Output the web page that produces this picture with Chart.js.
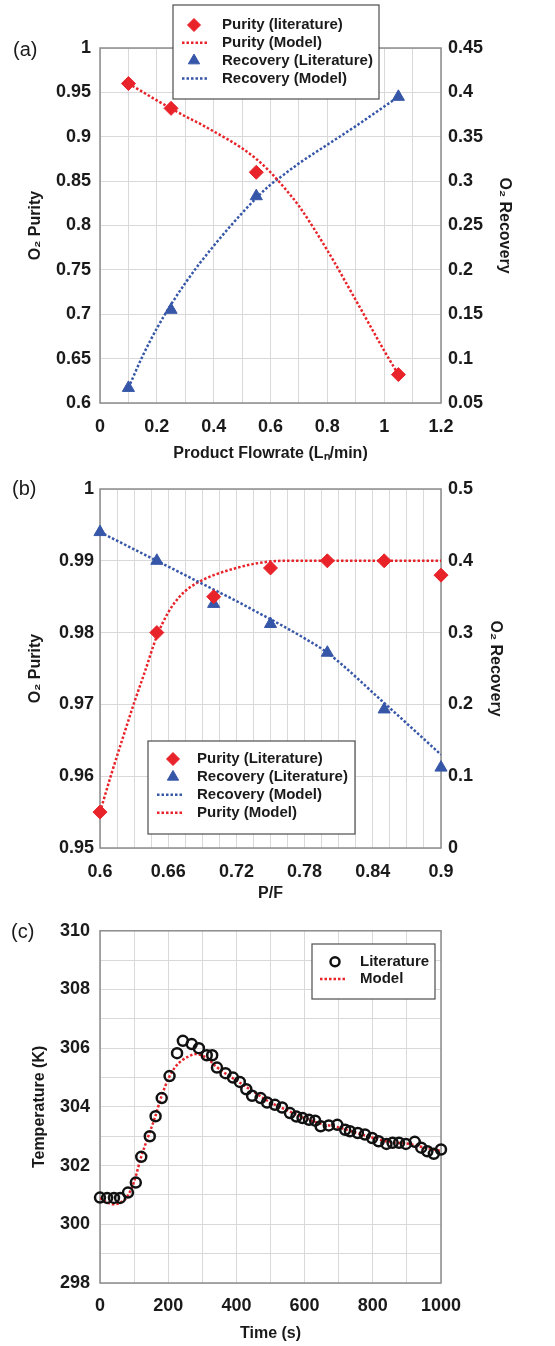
<!DOCTYPE html>
<html>
<head>
<meta charset="utf-8">
<title>O2 PSA validation</title>
<script src="https://cdn.jsdelivr.net/npm/chart.js@4.4.1/dist/chart.umd.min.js"></script>
<style>
  body { margin: 0; background: #fff; }
  #fig { position: relative; width: 555px; height: 1346px; font-family: "Liberation Sans", Arial, sans-serif; }
  #fig canvas { position: absolute; left: 0; }
  .tag { position: absolute; font-size: 20px; line-height: 20px; color: #1a1a1a; }
</style>
</head>
<body>
<div id="fig">
  <canvas id="chartA" width="555" height="470" style="top:0"></canvas>
  <canvas id="chartB" width="555" height="440" style="top:470px"></canvas>
  <canvas id="chartC" width="555" height="436" style="top:910px"></canvas>
  <div class="tag" style="left:13px;top:39px">(a)</div>
  <div class="tag" style="left:12px;top:478px">(b)</div>
  <div class="tag" style="left:11px;top:921px">(c)</div>
</div>
<script>
// (a) purity / recovery against product flowrate
const flowLit = [0.1, 0.25, 0.55, 1.05];
const purityLitA = [0.96, 0.932, 0.86, 0.632];
const recoveryLitA = [0.067, 0.155, 0.283, 0.395];
const flowModel = [0.1, 0.15, 0.2, 0.25, 0.3, 0.35, 0.4, 0.45, 0.5, 0.55, 0.6, 0.65, 0.7, 0.8, 0.9, 1.0, 1.05];
const purityModelA = [0.96, 0.9505, 0.941, 0.932, 0.923, 0.915, 0.906, 0.897, 0.887, 0.875, 0.86, 0.842, 0.822, 0.772, 0.716, 0.659, 0.632];
const recoveryModelA = [0.067, 0.103, 0.134, 0.161, 0.185, 0.207, 0.227, 0.246, 0.264, 0.281, 0.296, 0.308, 0.32, 0.341, 0.362, 0.384, 0.395];

// (b) purity / recovery against P/F
const pfLit = [0.6, 0.65, 0.7, 0.75, 0.8, 0.85, 0.9];
const purityLitB = [0.955, 0.98, 0.985, 0.989, 0.99, 0.99, 0.988];
const recoveryLitB = [0.44, 0.40, 0.34, 0.312, 0.272, 0.193, 0.112];
const pfModel = [0.6, 0.61, 0.62, 0.63, 0.64, 0.65, 0.66, 0.67, 0.68, 0.69, 0.7, 0.72, 0.74, 0.76, 0.78, 0.8, 0.85, 0.9];
const purityModelB = [0.955, 0.9603, 0.9653, 0.9702, 0.9748, 0.9795, 0.9828, 0.985, 0.9864, 0.9873, 0.988, 0.989, 0.9897, 0.99, 0.99, 0.99, 0.99, 0.99];
const recoveryModelB = [0.44, 0.432, 0.424, 0.416, 0.408, 0.40, 0.392, 0.384, 0.376, 0.368, 0.36, 0.344, 0.327, 0.31, 0.292, 0.272, 0.202, 0.13];

// (c) bed temperature history
const timeLit = [0, 21, 41, 59, 82, 105, 121, 146, 163, 181, 204, 226, 243, 269, 290, 313, 329, 343, 368, 390,
  410, 429, 446, 471, 490, 513, 534, 557, 576, 594, 613, 631, 647, 671, 696, 719, 733, 756, 777, 798,
  817, 840, 858, 877, 897, 923, 942, 960, 979, 1000];
const tempLit = [300.91, 300.9, 300.9, 300.9, 301.08, 301.42, 302.3, 303.0, 303.68, 304.3, 305.05, 305.83, 306.25, 306.14, 306.0, 305.76, 305.76, 305.34, 305.15, 305.0,
  304.85, 304.6, 304.38, 304.3, 304.15, 304.07, 303.98, 303.79, 303.67, 303.62, 303.56, 303.53, 303.34, 303.37, 303.39, 303.22, 303.17, 303.11, 303.06, 302.94,
  302.83, 302.74, 302.78, 302.78, 302.74, 302.81, 302.61, 302.49, 302.4, 302.55];
const timeModel = [0, 20, 40, 60, 80, 100, 120, 140, 160, 180, 200, 220, 240, 260, 280, 300, 320, 340, 360, 380, 400,
  450, 500, 550, 600, 650, 700, 750, 800, 850, 900, 950, 1000];
const tempModel = [300.9, 300.75, 300.68, 300.74, 300.95, 301.45, 302.27, 302.95, 303.6, 304.35, 304.95, 305.35, 305.58, 305.72, 305.8, 305.75, 305.6, 305.38, 305.2, 305.05, 304.9,
  304.52, 304.15, 303.88, 303.62, 303.42, 303.3, 303.12, 302.95, 302.8, 302.75, 302.62, 302.5];

const RED = '#e8232a';
const BLUE = '#3656a8';
const GRID = '#d9d9d9';
const FRAME = '#8c8c8c';
const INK = '#1a1a1a';

Chart.defaults.font.family = '"Liberation Sans", Arial, Helvetica, sans-serif';
Chart.defaults.color = INK;

function xy(xs, ys) {
    return xs.map((x, i) => ({ x: x, y: ys[i] }));
}

function fmt(v) {
    return String(+v.toFixed(3));
}

// literature points
function markers(label, xs, ys, style, radius, color, axis) {
    return {
        label: label,
        data: xy(xs, ys),
        showLine: false,
        pointStyle: style,
        pointRadius: radius,
        pointBackgroundColor: color,
        pointBorderColor: color,
        pointBorderWidth: 1,
        yAxisID: axis,
        clip: false,
        order: 0
    };
}

// model curves, dotted
function dotted(label, xs, ys, color, axis) {
    return {
        label: label,
        data: xy(xs, ys),
        showLine: true,
        pointRadius: 0,
        borderColor: color,
        borderWidth: 2.5,
        borderDash: [2.5, 2],
        cubicInterpolationMode: 'monotone',
        fill: false,
        yAxisID: axis,
        order: 1
    };
}

function axis(pos, min, max, step, o) {
    return {
        type: 'linear',
        position: pos,
        min: min,
        max: max,
        grid: { color: GRID, lineWidth: 1, drawTicks: false, display: o.grid !== false },
        border: { display: false },
        ticks: {
            stepSize: step,
            maxTicksLimit: 100,
            padding: o.pad,
            autoSkip: false,
            maxRotation: 0,
            minRotation: 0,
            color: INK,
            font: { size: 18, weight: 'bold' },
            callback: o.label || fmt
        },
        title: {
            display: true,
            text: o.title,
            color: INK,
            font: { size: 16, weight: 'bold' },
            padding: o.titlePad
        },
        afterFit: o.fit
    };
}

// grey box round the plot area
const framePlugin = {
    id: 'frame',
    beforeDatasetsDraw(chart) {
        const a = chart.chartArea;
        const ctx = chart.ctx;
        ctx.save();
        ctx.strokeStyle = FRAME;
        ctx.lineWidth = 1.5;
        ctx.strokeRect(a.left, a.top, a.right - a.left, a.bottom - a.top);
        ctx.restore();
    }
};

// boxed legend placed over the plot
const boxLegendPlugin = {
    id: 'boxLegend',
    afterDraw(chart, args, opts) {
        if (!opts || !opts.box) return;
        const ctx = chart.ctx;
        const b = opts.box;
        ctx.save();
        ctx.fillStyle = '#fff';
        ctx.fillRect(b[0], b[1], b[2], b[3]);
        ctx.strokeStyle = '#4d4d4d';
        ctx.lineWidth = 1.2;
        ctx.strokeRect(b[0], b[1], b[2], b[3]);
        ctx.font = 'bold 15px "Liberation Sans", Arial, sans-serif';
        ctx.textBaseline = 'middle';
        chart.data.datasets.forEach((ds, k) => {
            const y = opts.firstRow + k * opts.rowGap;
            if (ds.showLine) {
                ctx.strokeStyle = ds.borderColor;
                ctx.lineWidth = ds.borderWidth;
                ctx.setLineDash(ds.borderDash);
                ctx.beginPath();
                ctx.moveTo(opts.lineX[0], y);
                ctx.lineTo(opts.lineX[1], y);
                ctx.stroke();
                ctx.setLineDash([]);
            } else {
                ctx.fillStyle = ds.pointBackgroundColor;
                ctx.strokeStyle = ds.pointBorderColor;
                ctx.lineWidth = ds.pointBorderWidth;
                Chart.helpers.drawPoint(ctx, {
                    pointStyle: ds.pointStyle,
                    radius: ds.pointRadius - 0.5,
                    borderWidth: ds.pointBorderWidth,
                    rotation: 0
                }, opts.symX, y);
            }
            ctx.fillStyle = INK;
            ctx.fillText(ds.label, opts.textX, y);
        });
        ctx.restore();
    }
};

Chart.register(framePlugin, boxLegendPlugin);

function baseOptions(top, scales, legend) {
    return {
        responsive: false,
        animation: false,
        devicePixelRatio: 1,
        layout: { padding: { top: top, left: 0, right: 0, bottom: 0 } },
        scales: scales,
        plugins: {
            legend: { display: false },
            tooltip: { enabled: false },
            boxLegend: legend
        }
    };
}

new Chart(document.getElementById('chartA'), {
    type: 'scatter',
    data: {
        datasets: [
            markers('Purity (literature)', flowLit, purityLitA, 'rectRot', 7, RED, 'y'),
            dotted('Purity (Model)', flowModel, purityModelA, RED, 'y'),
            markers('Recovery (Literature)', flowLit, recoveryLitA, 'triangle', 7, BLUE, 'y1'),
            dotted('Recovery (Model)', flowModel, recoveryModelA, BLUE, 'y1')
        ]
    },
    options: baseOptions(48, {
        x: axis('bottom', 0, 1.2, 0.1, {
            pad: 13, title: 'Product Flowrate (L\u2099/min)', titlePad: { top: 0, bottom: 7 },
            label: (v, i) => i % 2 === 0 ? fmt(v) : '',
            fit: s => { s.height = 67; }
        }),
        y: axis('left', 0.6, 1, 0.05, {
            pad: 9, title: 'O\u2082 Purity', titlePad: { top: 26, bottom: 0 },
            fit: s => { s.width = 100; }
        }),
        y1: axis('right', 0.05, 0.45, 0.05, {
            pad: 7, grid: false, title: 'O\u2082 Recovery', titlePad: { top: 41, bottom: 0 },
            fit: s => { s.width = 114; }
        })
    }, { box: [173, 5, 206, 94], firstRow: 25, rowGap: 17.8, symX: 194, lineX: [182, 208], textX: 222 })
});

new Chart(document.getElementById('chartB'), {
    type: 'scatter',
    data: {
        datasets: [
            markers('Purity (Literature)', pfLit, purityLitB, 'rectRot', 7, RED, 'y'),
            markers('Recovery (Literature)', pfLit, recoveryLitB, 'triangle', 7, BLUE, 'y1'),
            dotted('Recovery (Model)', pfModel, recoveryModelB, BLUE, 'y1'),
            dotted('Purity (Model)', pfModel, purityModelB, RED, 'y')
        ]
    },
    options: baseOptions(19, {
        x: axis('bottom', 0.6, 0.9, 0.015, {
            pad: 13, title: 'P/F', titlePad: { top: 0, bottom: 7 },
            label: (v, i) => i % 4 === 0 ? fmt(v) : '',
            fit: s => { s.height = 62; }
        }),
        y: axis('left', 0.95, 1, 0.01, {
            pad: 6, title: 'O\u2082 Purity', titlePad: { top: 26, bottom: 0 },
            fit: s => { s.width = 100; }
        }),
        y1: axis('right', 0, 0.5, 0.1, {
            pad: 7, grid: false, title: 'O\u2082 Recovery', titlePad: { top: 50, bottom: 0 },
            fit: s => { s.width = 114; }
        })
    }, { box: [148, 271, 207, 93], firstRow: 289, rowGap: 17.9, symX: 173, lineX: [157, 183], textX: 197 })
});

const optsC = baseOptions(18, {
    x: axis('bottom', 0, 1000, 100, {
        pad: 12, title: 'Time (s)', titlePad: { top: 0, bottom: 3 },
        label: (v, i) => i % 2 === 0 ? String(v) : '',
        fit: s => { s.height = 63; }
    }),
    y: axis('left', 298, 310, 1, {
        pad: 10, title: 'Temperature (K)', titlePad: { top: 30, bottom: 0 },
        label: v => v % 2 === 0 ? String(v) : '',
        fit: s => { s.width = 100; }
    })
}, { box: [312, 34, 123, 55], firstRow: 51.7, rowGap: 17.3, symX: 335, lineX: [320, 347], textX: 360 });
optsC.layout.padding.right = 114;

new Chart(document.getElementById('chartC'), {
    type: 'scatter',
    data: {
        datasets: [
            {
                label: 'Literature',
                data: xy(timeLit, tempLit),
                showLine: false,
                pointStyle: 'circle',
                pointRadius: 5,
                pointBackgroundColor: 'rgba(0,0,0,0)',
                pointBorderColor: '#111',
                pointBorderWidth: 2.5,
                clip: false,
                order: 0
            },
            dotted('Model', timeModel, tempModel, RED, 'y')
        ]
    },
    options: optsC
});
</script>
</body>
</html>
